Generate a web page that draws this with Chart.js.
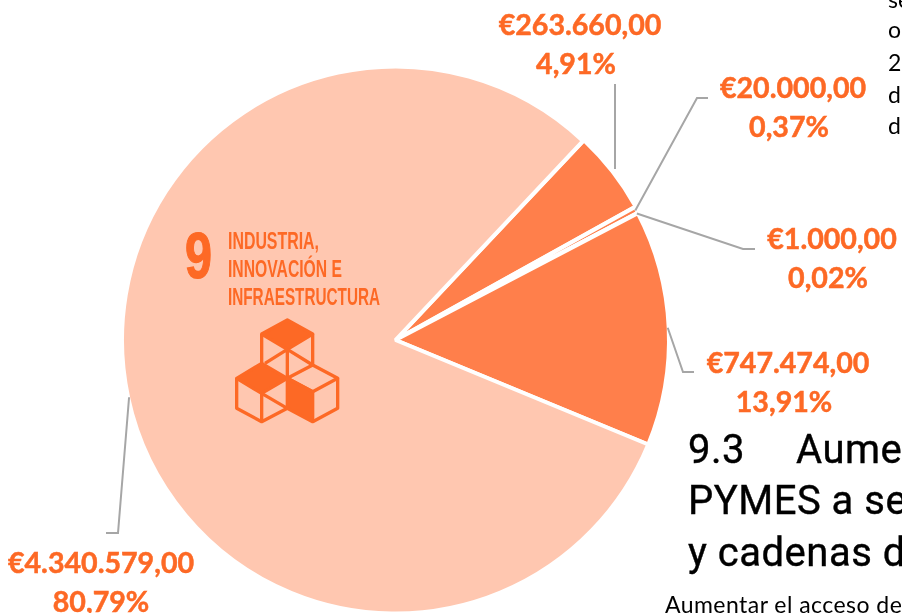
<!DOCTYPE html>
<html lang="es">
<head>
<meta charset="utf-8">
<title>ODS 9</title>
<script src="https://cdn.jsdelivr.net/npm/chart.js@4"></script>
<style>
html,body{margin:0;padding:0;background:#fff;overflow:hidden;width:902px;height:613px}
#wrap{position:relative;width:902px;height:613px;overflow:hidden}
canvas{position:absolute;left:0;top:0}
.t{position:absolute;white-space:nowrap;color:#000;line-height:1}
.h{font-family:Roboto,sans-serif;font-weight:400;font-size:40px;letter-spacing:.5px;-webkit-text-stroke:.4px #000}
.b{font-family:Lato,sans-serif;font-size:23px}
svg{position:absolute;left:0;top:0}
</style>
</head>
<body>
<div id="wrap">
<canvas id="c" width="902" height="613"></canvas>
<svg width="902" height="613" viewBox="0 0 902 613">
  <g fill="#FD6925" font-family="'Liberation Sans Narrow',sans-serif" font-weight="700">
    <text x="185" y="278" font-size="64" textLength="27" lengthAdjust="spacingAndGlyphs" stroke="#FD6925" stroke-width="1.2">9</text>
    <text x="228" y="249" font-size="23" textLength="91" lengthAdjust="spacingAndGlyphs">INDUSTRIA,</text>
    <text x="228" y="277" font-size="23" textLength="114" lengthAdjust="spacingAndGlyphs">INNOVACIÓN E</text>
    <text x="228" y="305" font-size="23" textLength="152" lengthAdjust="spacingAndGlyphs">INFRAESTRUCTURA</text>
  </g>
  <svg x="225" y="310" width="125" height="120" viewBox="0 0 375 360">
    <g fill="none" stroke="#FD6925" stroke-width="10" stroke-linejoin="round">
      <path fill="#FD6925" d="M187 30L263 72L187 118L110 72Z"/>
      <path d="M110 72V160M263 72V165M187 118V205M187 118L263 165M187 118L120 160"/>
      <path fill="#FD6925" d="M35 205L110 160L187 205L110 250Z"/>
      <path d="M35 205V295L110 335L187 295M110 250V335M110 250L187 295"/>
      <path d="M187 205L263 165L338 205L263 245Z"/>
      <path fill="#FD6925" d="M187 205L263 245V335L187 295Z"/>
      <path d="M338 205V295L263 335"/>
    </g>
  </svg>
</svg>
<div class="t b" style="left:888px;top:-12px">se</div>
<div class="t b" style="left:888px;top:18px">o</div>
<div class="t b" style="left:888px;top:51px">2</div>
<div class="t b" style="left:888px;top:83px">d</div>
<div class="t b" style="left:888px;top:114px">d</div>
<div class="t h" style="left:688px;top:430px">9.3</div>
<div class="t h" style="left:796px;top:430px">Aumentar</div>
<div class="t h" style="left:688px;top:481px">PYMES a servicios</div>
<div class="t h" style="left:688px;top:533px">y cadenas de valor</div>
<div class="t b" style="left:665px;top:593px;letter-spacing:.45px">Aumentar el acceso de</div>
</div>
<script>
const categories = ['Meta A', 'Meta B', 'Meta C', 'Meta D', 'Meta E'];
const amounts = [263660, 20000, 1000, 747474, 4340579];
const amountLabels = ['€263.660,00', '€20.000,00', '€1.000,00', '€747.474,00', '€4.340.579,00'];
const percentLabels = ['4,91%', '0,37%', '0,02%', '13,91%', '80,79%'];
const sliceColors = ['#FF7F4B', '#FF7F4B', '#FF7F4B', '#FF7F4B', '#FFC7B0'];
const sliceOffsets = [3, 1, 1, 0, 0];
const labelColor = '#FD6925';
const leaderColor = '#A6A6A6';
const labelCenters = [[580, 35], [793, 98], [832, 249], [788, 373], [101, 573]];
const percentCenters = [576, 789, 828, 784, 101];
const leaderElbows = [null, [697, 98, 708, 98], [743, 249, 755, 249], [683, 372, 694, 372], [118, 533, 106, 533]];
const leaderEnds = [[615, 84], null, null, null, null];

const pieLabels = {
  id: 'pieLabels',
  afterDatasetsDraw(chart) {
    const ctx = chart.ctx;
    const arcs = chart.getDatasetMeta(0).data;
    ctx.save();
    ctx.strokeStyle = leaderColor;
    ctx.lineWidth = 2;
    arcs.forEach((arc, i) => {
      const mid = (arc.startAngle + arc.endAngle) / 2;
      const r = arc.outerRadius + (i === 0 ? 5 : -1);
      const x0 = arc.x + Math.cos(mid) * r;
      const y0 = arc.y + Math.sin(mid) * r;
      ctx.beginPath();
      if (leaderElbows[i]) {
        const e = leaderElbows[i];
        ctx.moveTo(x0, y0);
        ctx.lineTo(e[0], e[1]);
        ctx.lineTo(e[2], e[3]);
      } else {
        ctx.moveTo(leaderEnds[i][0], y0);
        ctx.lineTo(leaderEnds[i][0], leaderEnds[i][1]);
      }
      ctx.stroke();
    });
    ctx.fillStyle = labelColor;
    ctx.strokeStyle = labelColor;
    ctx.lineWidth = 0.5;
    ctx.textAlign = 'center';
    ctx.textBaseline = 'alphabetic';
    ctx.font = '700 28.6px Lato, sans-serif';
    arcs.forEach((arc, i) => {
      const [cx, by] = labelCenters[i];
      ctx.fillText(amountLabels[i], cx, by);
      ctx.strokeText(amountLabels[i], cx, by);
      ctx.fillText(percentLabels[i], percentCenters[i], by + 39);
      ctx.strokeText(percentLabels[i], percentCenters[i], by + 39);
    });
    ctx.restore();
  }
};

new Chart(document.getElementById('c'), {
  type: 'pie',
  data: {
    labels: categories,
    datasets: [{
      data: amounts,
      backgroundColor: sliceColors,
      borderColor: '#FFFFFF',
      borderWidth: 4,
      offset: sliceOffsets,
      radius: 273.5
    }]
  },
  options: {
    responsive: false,
    animation: false,
    rotation: 43.3,
    layout: { padding: { left: 121, right: 232, top: 67, bottom: -2 } },
    plugins: { legend: { display: false }, tooltip: { enabled: false } }
  },
  plugins: [pieLabels]
});
</script>
</body>
</html>
